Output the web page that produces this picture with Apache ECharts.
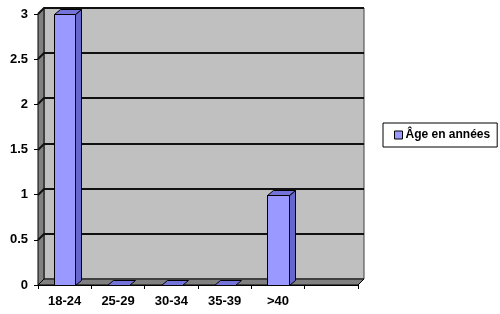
<!DOCTYPE html>
<html>
<head>
<meta charset="utf-8">
<script src="https://cdn.jsdelivr.net/npm/echarts@6/dist/echarts.min.js"></script>
<style>
html,body{margin:0;padding:0;background:#fff;}
#chart{width:500px;height:314px;}
</style>
</head>
<body>
<div id="chart"></div>
<script>
const categories = ['18-24', '25-29', '30-34', '35-39', '>40', ''];
const values = [3, 0, 0, 0, 1];
const yTicks = [0, 0.5, 1, 1.5, 2, 2.5, 3];
const seriesName = 'Âge en années';

const WALL_D = [6, -6];
const BAR_D = [6, -5];
const FONT = '"Liberation Sans", Arial, sans-serif';

const chart = echarts.init(document.getElementById('chart'), null, {renderer: 'canvas'});

function renderWalls(params, api) {
  const cs = params.coordSys;
  const x0 = cs.x, x1 = cs.x + cs.width, yT = cs.y, yB = cs.y + cs.height;
  const dx = WALL_D[0], dy = WALL_D[1];
  const children = [];
  children.push({type: 'polygon', shape: {points: [[x0 + dx, yT + dy], [x1 + dx, yT + dy], [x1 + dx, yB + dy], [x0 + dx, yB + dy]]},
    style: {fill: '#C0C0C0', stroke: '#404040', lineWidth: 1}});
  children.push({type: 'polygon', shape: {points: [[x0, yT], [x0 + dx, yT + dy], [x0 + dx, yB + dy], [x0, yB]]},
    style: {fill: '#808080', stroke: '#000', lineWidth: 1}});
  children.push({type: 'polygon', shape: {points: [[x0, yB], [x0 + dx, yB + dy], [x1 + dx, yB + dy], [x1, yB]]},
    style: {fill: '#808080', stroke: '#000', lineWidth: 1}});
  yTicks.forEach(function (t) {
    if (t === 0) return;
    const y = Math.round(api.coord([0, t])[1]);
    children.push({type: 'polyline', shape: {points: [[x0, y], [x0 + dx, y + dy], [x1 + dx, y + dy]]},
      style: {stroke: '#111', lineWidth: 2, fill: null}});
  });
  return {type: 'group', children: children};
}

function renderBar(params, api) {
  const i = api.value(0), v = api.value(1);
  const base = api.coord([i, 0]);
  const top = api.coord([i, v]);
  const w = api.size([1, 0])[0] * 0.4;
  const xl = Math.round(base[0] - w / 2) + 0.5, xr = Math.round(base[0] + w / 2) + 0.5;
  const yb = Math.round(base[1]) + 0.5, yt = Math.round(top[1]) + 0.5;
  const dx = BAR_D[0], dy = BAR_D[1];
  const children = [];
  if (yb - yt > 0) {
    children.push({type: 'polygon', shape: {points: [[xr, yt], [xr + dx, yt + dy], [xr + dx, yb + dy], [xr, yb]]},
      style: {fill: '#6666CC', stroke: '#000', lineWidth: 1}});
    children.push({type: 'polygon', shape: {points: [[xl, yt], [xr, yt], [xr, yb], [xl, yb]]},
      style: {fill: '#9999FF', stroke: '#000', lineWidth: 1}});
  }
  children.push({type: 'polygon', shape: {points: [[xl, yt], [xl + dx, yt + dy], [xr + dx, yt + dy], [xr, yt]]},
    style: {fill: '#7373D9', stroke: '#000', lineWidth: 1}});
  return {type: 'group', children: children};
}

const option = {
  animation: false,
  backgroundColor: '#fff',
  grid: {left: 38, right: 142, top: 14, bottom: 29},
  legend: {
    data: [seriesName],
    left: 383, top: 123,
    orient: 'vertical',
    icon: 'rect',
    itemWidth: 8, itemHeight: 8, itemGap: 0,
    padding: [6, 7, 6, 11],
    borderColor: '#000', borderWidth: 1,
    itemStyle: {color: '#9999FF', borderColor: '#000', borderWidth: 1},
    textStyle: {fontFamily: FONT, fontWeight: 'bold', fontSize: 12, color: '#000', padding: [0, 0, 0, -2]}
  },
  xAxis: {
    type: 'category',
    data: categories,
    boundaryGap: true,
    axisLine: {show: true, lineStyle: {color: '#000', width: 1}},
    axisTick: {show: true, length: 4, lineStyle: {color: '#000'}},
    axisLabel: {fontFamily: FONT, fontWeight: 'bold', fontSize: 13, color: '#000', margin: 10, interval: 0},
    splitLine: {show: false}
  },
  yAxis: {
    type: 'value',
    min: 0, max: 3, interval: 0.5,
    axisLine: {show: true, lineStyle: {color: '#000', width: 1}},
    axisTick: {show: true, length: 4, lineStyle: {color: '#000'}},
    axisLabel: {fontFamily: FONT, fontWeight: 'bold', fontSize: 13, color: '#000', margin: 10},
    splitLine: {show: false}
  },
  series: [
    {
      type: 'custom',
      name: 'walls',
      renderItem: renderWalls,
      data: [[0, 0]],
      encode: {x: 0, y: 1},
      silent: true,
      z: 1
    },
    {
      type: 'custom',
      name: seriesName,
      renderItem: renderBar,
      itemStyle: {color: '#9999FF', borderColor: '#000', borderWidth: 1},
      data: values.map(function (v, i) { return [i, v]; }),
      encode: {x: 0, y: 1},
      z: 3
    }
  ]
};
chart.setOption(option);
</script>
</body>
</html>
